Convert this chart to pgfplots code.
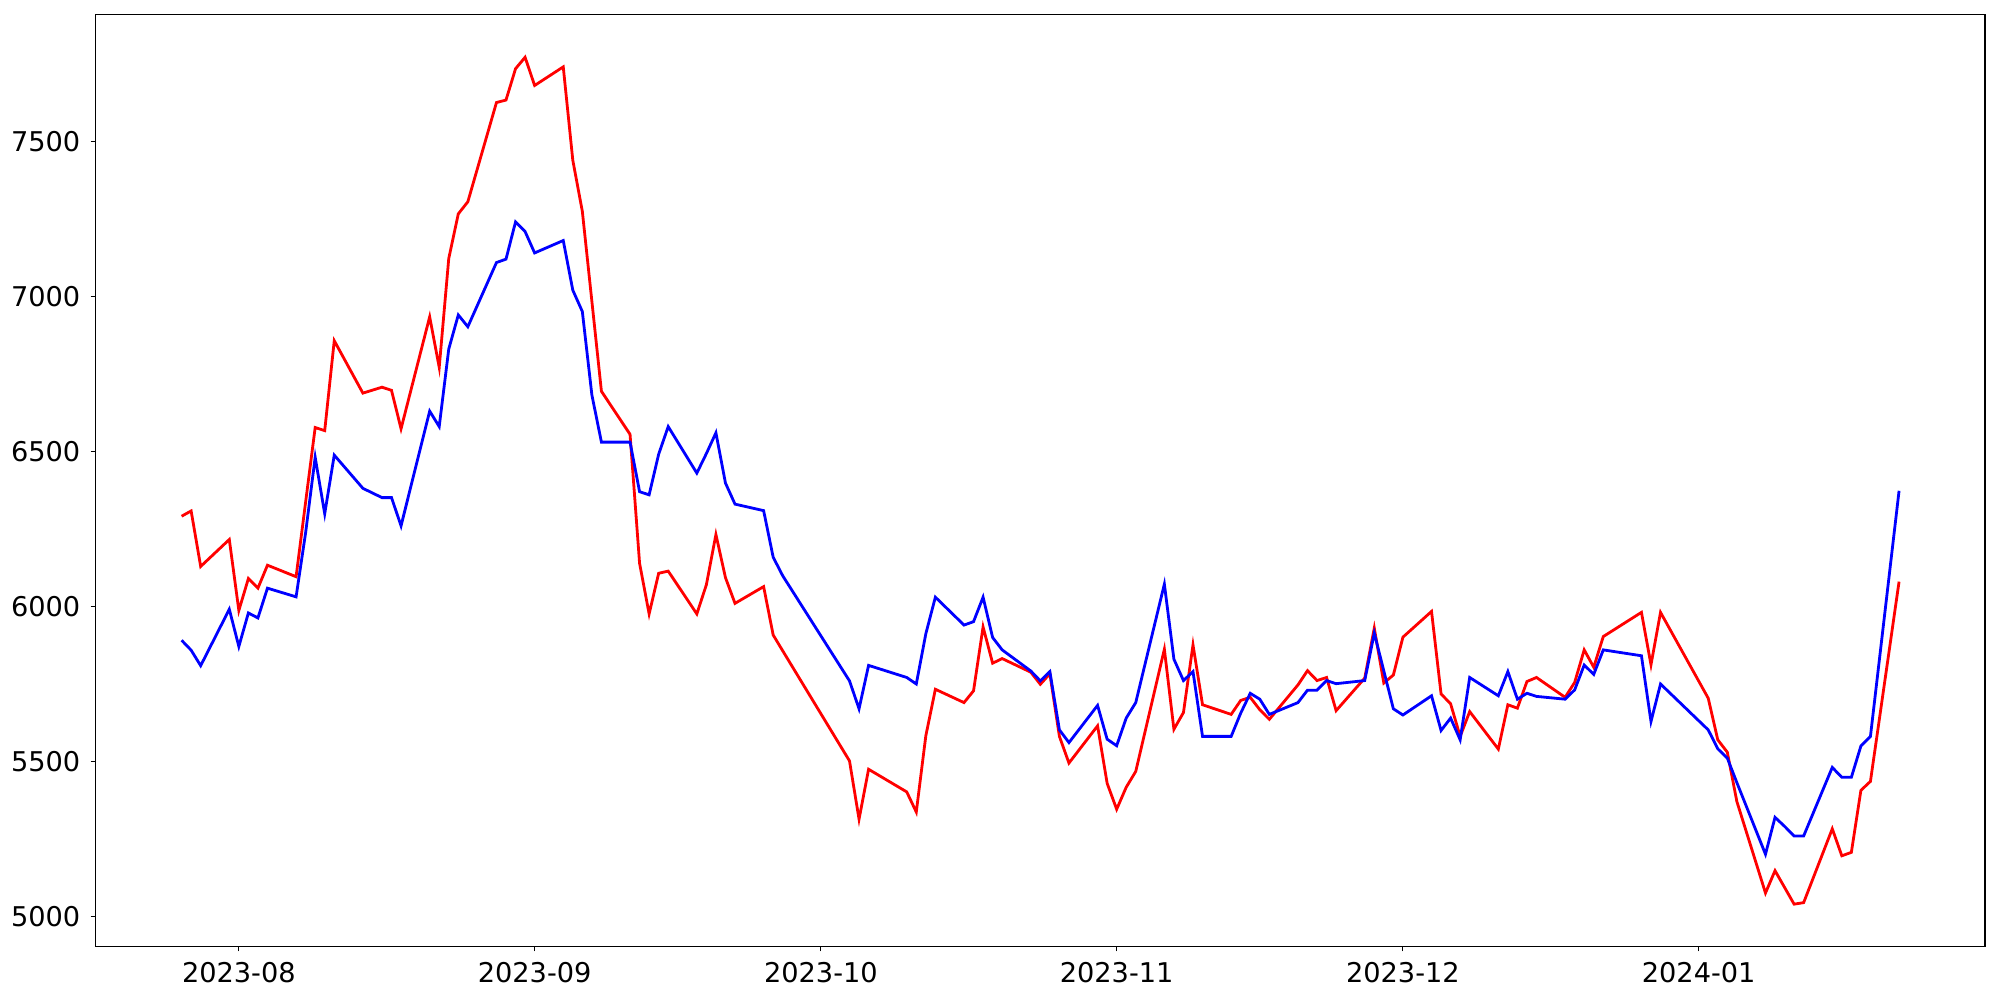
\documentclass[border=0pt]{standalone}
\usepackage{pgfplots}
\pgfplotsset{compat=1.18}
\usepackage{pgfplotstable}
\usepackage{fontspec}
\setmainfont{DejaVu Sans}
\pgfplotstableread{
d red blue
-6 6292 5892
-5 6309 5860
-4 6130 5810
-1 6217 5992
0 5988 5872
1 6091 5980
2 6060 5964
3 6134 6060
6 6097 6032
7 6338 6239
8 6578 6482
9 6568 6300
10 6858 6489
13 6689 6382
15 6708 6352
16 6698 6352
17 6574 6261
20 6935 6631
21 6772 6581
22 7123 6831
23 7267 6941
24 7306 6903
27 7626 7110
28 7634 7121
29 7735 7241
30 7772 7210
31 7681 7141
34 7741 7181
35 7440 7021
36 7275 6952
37 6985 6683
38 6695 6531
41 6556 6531
42 6140 6371
43 5977 6361
44 6108 6492
45 6115 6581
48 5977 6431
49 6071 6494
50 6233 6561
51 6094 6399
52 6011 6331
55 6065 6310
56 5909 6160
57 5858 6100
64 5503 5761
65 5315 5671
66 5476 5811
70 5403 5772
71 5338 5751
72 5584 5913
73 5734 6031
76 5691 5941
77 5729 5952
78 5935 6031
79 5818 5901
80 5833 5861
83 5789 5793
84 5750 5761
85 5784 5791
86 5582 5603
87 5496 5562
90 5616 5682
91 5431 5573
92 5347 5552
93 5418 5641
94 5469 5691
97 5863 6073
98 5605 5831
99 5659 5762
100 5877 5791
101 5684 5582
104 5653 5582
105 5698 5657
106 5708 5721
107 5668 5702
108 5637 5653
111 5748 5691
112 5794 5731
113 5762 5731
114 5772 5762
115 5665 5752
118 5770 5762
119 5931 5915
120 5754 5793
121 5780 5671
122 5902 5651
125 5985 5713
126 5719 5601
127 5687 5641
128 5582 5571
129 5662 5772
132 5541 5713
133 5684 5791
134 5673 5702
135 5759 5721
136 5772 5711
139 5708 5702
140 5756 5732
141 5861 5812
142 5805 5782
143 5904 5861
147 5982 5842
148 5813 5630
149 5982 5751
154 5705 5603
155 5571 5542
156 5531 5512
157 5372 5433
160 5077 5202
161 5149 5321
162 5095 5292
163 5041 5261
164 5046 5261
167 5284 5482
168 5197 5450
169 5208 5450
170 5408 5551
171 5437 5582
174 6081 6374
}\datatable
\begin{document}
\begin{tikzpicture}
\useasboundingbox (0,0) rectangle (500pt,250pt);
\begin{axis}[
  at={(23.93pt,13.38pt)}, anchor=south west,
  scale only axis, width=472.3pt, height=232.9pt,
  xmin=-15, xmax=183, ymin=4904.5, ymax=7908.6,
  xtick={0,31,61,92,122,153},
  xticklabels={2023-08,2023-09,2023-10,2023-11,2023-12,2024-01},
  ytick={5000,5500,6000,6500,7000,7500},
  /pgf/number format/assume math mode=true,
  yticklabel={\pgfmathprintnumber[fixed,precision=0,1000 sep={}]{\tick}},
  tick align=outside, tick pos=left,
  major tick length=1.25pt,
  every tick/.style={black, line width=0.28pt},
  axis line style={line width=0.28pt},
  ticklabel style={font=\fontsize{6.8}{8}\selectfont, inner sep=0pt},
  yticklabel style={anchor=east, xshift=-2.4pt},
  xticklabel style={anchor=north, yshift=-2.6pt},
  clip=true,
]
\addplot[red, line width=0.7pt] table[x=d, y=red] {\datatable};
\addplot[blue, line width=0.7pt] table[x=d, y=blue] {\datatable};
\end{axis}
\end{tikzpicture}
\end{document}
